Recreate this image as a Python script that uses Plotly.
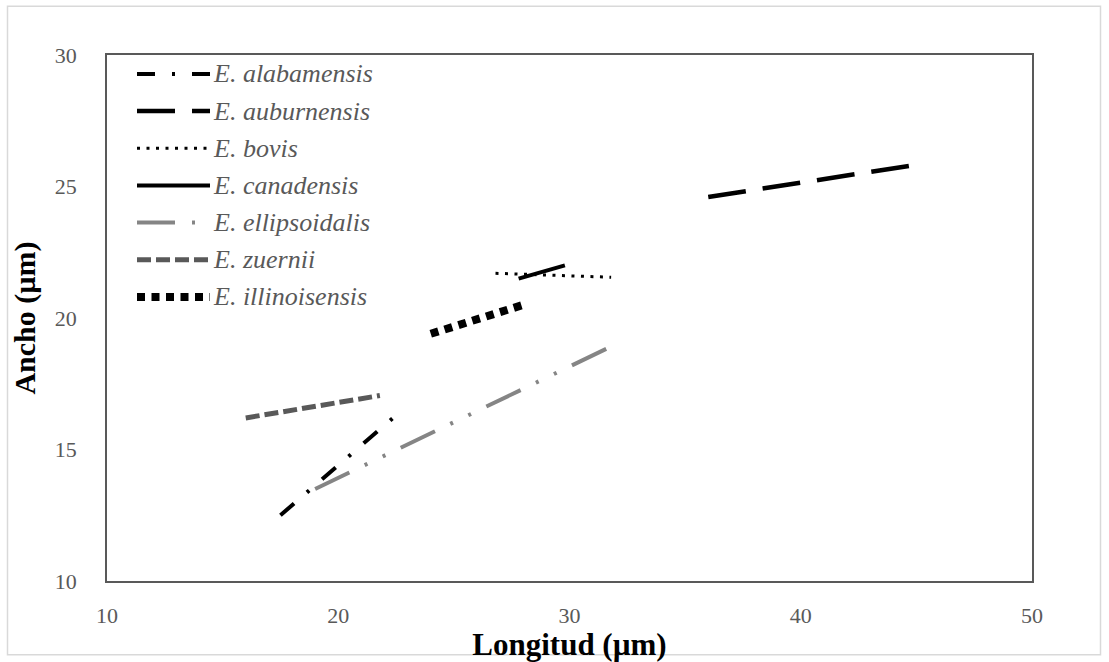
import plotly.graph_objects as go

species = ["E. alabamensis", "E. auburnensis", "E. bovis", "E. canadensis",
           "E. ellipsoidalis", "E. zuernii", "E. illinoisensis"]
longitud = [[17.5, 22.5], [36.0, 44.8], [26.8, 31.8], [27.8, 29.8],
            [19.0, 32.0], [16.0, 21.8], [24.0, 28.0]]
ancho = [[12.5, 16.3], [24.6, 25.8], [21.7, 21.55], [21.5, 22.0],
         [13.5, 19.0], [16.2, 17.05], [19.4, 20.5]]
x_ticks = [10, 20, 30, 40, 50]
y_ticks = [10, 15, 20, 25, 30]

styles = [
    dict(color="black", width=4, dash="18px,17px,3px,17px"),
    dict(color="black", width=4.5, dash="38px,17px"),
    dict(color="black", width=3, dash="3px,6.5px"),
    dict(color="black", width=4, dash="solid"),
    dict(color="#858585", width=4, dash="38px,17px,3px,17px,3px,17px"),
    dict(color="#595959", width=5, dash="14px,5px"),
    dict(color="black", width=8, dash="8px,6.5px"),
]

fig = go.Figure()
for name, xs, ys, st in zip(species, longitud, ancho, styles):
    fig.add_trace(go.Scatter(x=xs, y=ys, mode="lines", name=name, line=st,
                             showlegend=False))

# custom legend (inside plot, top-left)
plot_l, plot_r, plot_t, plot_b = 107, 1032, 55, 583
def px(sx):
    return (sx - plot_l) / (plot_r - plot_l)
def py(sy):
    return (plot_b - sy) / (plot_b - plot_t)

shapes = []
annotations = []
for i, (name, st) in enumerate(zip(species, styles)):
    sy = 74 + 37.3 * i
    shapes.append(dict(type="line", xref="paper", yref="paper",
                       x0=px(137), x1=px(210), y0=py(sy), y1=py(sy),
                       line=dict(color=st["color"], width=st["width"], dash=st["dash"])))
    annotations.append(dict(text="<i>" + name + "</i>", xref="paper", yref="paper",
                            x=px(211), y=py(sy), xanchor="left", yanchor="middle",
                            showarrow=False,
                            font=dict(family="Liberation Serif", size=26, color="#595959")))

shapes.append(dict(type="rect", xref="paper", yref="paper",
                   x0=px(7.5), x1=px(1100.5), y0=py(657), y1=py(6),
                   line=dict(color="#d9d9d9", width=1.5), layer="below"))

fig.update_layout(
    width=1109, height=662,
    margin=dict(l=107, r=77, t=55, b=79),
    paper_bgcolor="white", plot_bgcolor="white",
    font=dict(family="Liberation Serif", color="#595959", size=22),
    showlegend=False,
    xaxis=dict(range=[10, 50], tickvals=x_ticks, showgrid=False, zeroline=False,
               showline=True, linecolor="#595959", linewidth=1.5, mirror=True,
               ticks="", ticklabelstandoff=14, tickfont=dict(size=22, color="#595959"),
               title=dict(text="<b>Longitud (µm)</b>", font=dict(size=31, color="black"), standoff=0)),
    yaxis=dict(range=[10, 30], tickvals=y_ticks, showgrid=False, zeroline=False,
               showline=True, linecolor="#595959", linewidth=1.5, mirror=True,
               ticks="", ticklabelstandoff=24, tickfont=dict(size=22, color="#595959"),
               title=dict(text="<b>Ancho (µm)</b>", font=dict(size=30, color="black"), standoff=10)),
    shapes=shapes,
    annotations=annotations,
)

fig.write_html("out.html", config={"displayModeBar": False},
               post_script="document.body.style.margin='0px';")
